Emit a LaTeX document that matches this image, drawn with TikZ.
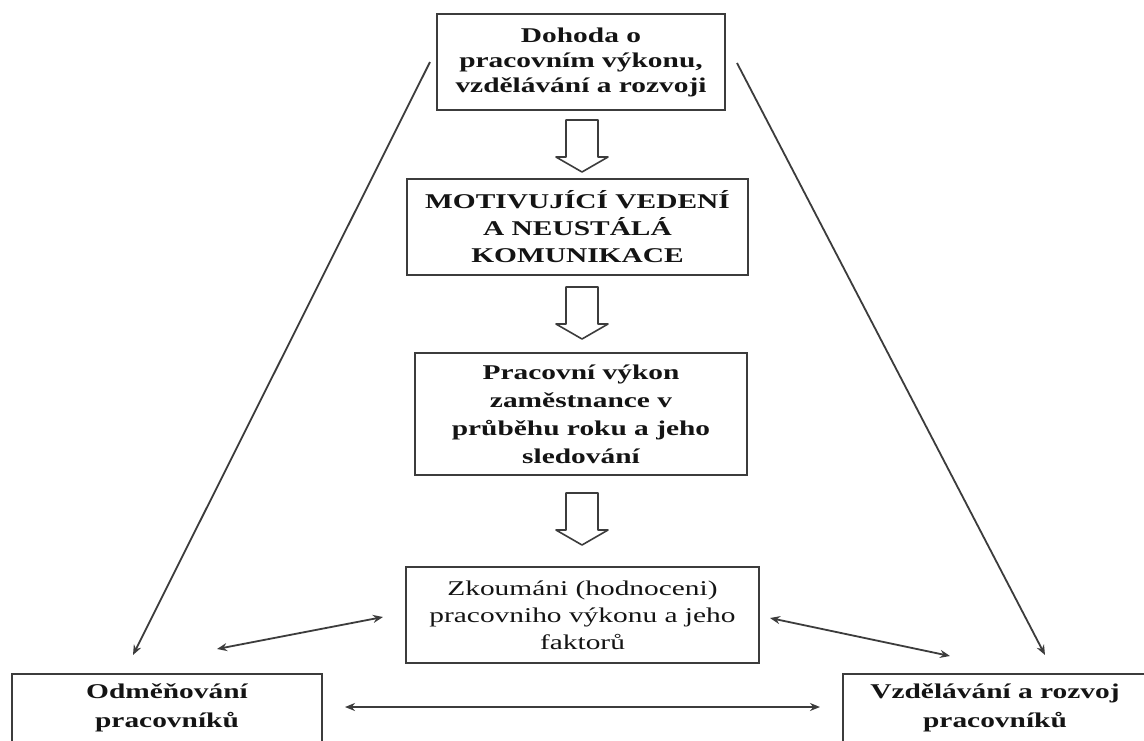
\documentclass[tikz,border=0pt]{standalone}
\usepackage{fontspec}
\setmainfont{Liberation Serif}[FakeStretch=1.4]
\usetikzlibrary{arrows.meta}
\definecolor{edgegray}{HTML}{3C3C3C}
\definecolor{inkgray}{HTML}{141414}
% open (hollow) block arrow hanging down from a given top-centre point
\newcommand\blockarrow[1]{%
  \draw[blockarr] (#1) ++(-16,0) -- ++(32,0) -- ++(0,37) -- ++(10,0)
    -- ++(-26,15) -- ++(-26,-15) -- ++(10,0) -- cycle;}
\begin{document}
\begin{tikzpicture}[x=1pt,y=-1pt,
  box/.style={draw=edgegray, line width=1.9pt, fill=white, align=center,
    inner sep=0pt, text=inkgray, font=\fontsize{21}{27}\selectfont\bfseries},
  plainbox/.style={box, font=\fontsize{21}{27}\selectfont},
  boxtext/.style={align=center, inner sep=0pt, text=inkgray,
    font=\fontsize{21}{29}\selectfont\bfseries},
  link/.style={draw=edgegray, line width=1.8pt,
    -{Stealth[length=10pt,width=8pt]}},
  both/.style={link, {Stealth[length=10pt,width=8pt]}-{Stealth[length=10pt,width=8pt]}},
  blockarr/.style={draw=edgegray, line width=1.6pt, fill=white, line join=round}
]
\useasboundingbox[fill=white] (0,0) rectangle (1144,740);
\clip (0,0) rectangle (1144,740);

% central chain of boxes
\node[box, minimum width=288pt, minimum height=96pt, font=\fontsize{21}{25}\selectfont\bfseries]
  (agree) at (581,62) {Dohoda o\\pracovním výkonu,\\vzdělávání a rozvoji};
\node[box, minimum width=341pt, minimum height=96pt]
  (lead) at (577.5,227) {MOTIVUJÍCÍ VEDENÍ\\A NEUSTÁLÁ\\KOMUNIKACE};
\node[box, minimum width=332pt, minimum height=122pt, font=\fontsize{21}{28}\selectfont\bfseries]
  (perf) at (581,414) {Pracovní výkon\\zaměstnance v\\průběhu roku a jeho\\sledování};
\node[plainbox, minimum width=353pt, minimum height=96pt]
  (review) at (582.5,615) {Zkoumáni (hodnoceni)\\pracovniho výkonu a jeho\\faktorů};

% bottom boxes, running off the lower edge
\node[box, minimum width=310pt, minimum height=130pt, anchor=north] (reward) at (167,673) {};
\node[boxtext] (rewardtext) at (167,708) {Odměňování\\pracovníků};
\node[box, minimum width=308pt, minimum height=130pt, anchor=north] (develop) at (997,673) {};
\node[boxtext] (developtext) at (995,708) {Vzdělávání a rozvoj\\pracovníků};

% hollow arrows between the central boxes
\coordinate (a1) at (582,120);
\coordinate (a2) at (582,287);
\coordinate (a3) at (582,493);
\blockarrow{a1}
\blockarrow{a2}
\blockarrow{a3}

% free ends of the connectors
\coordinate (lt) at (430,62);
\coordinate (lb) at (133,655);
\coordinate (rt) at (737,63);
\coordinate (rb) at (1045,655);
\coordinate (ml1) at (217,649);
\coordinate (ml2) at (383,617);
\coordinate (mr1) at (770,618);
\coordinate (mr2) at (950,656);
\coordinate (bl) at (345,707);
\coordinate (br) at (820,707);

\draw[link] (lt) -- (lb);
\draw[link] (rt) -- (rb);
\draw[both] (ml1) -- (ml2);
\draw[both] (mr1) -- (mr2);
\draw[both] (bl) -- (br);
\end{tikzpicture}
\end{document}
